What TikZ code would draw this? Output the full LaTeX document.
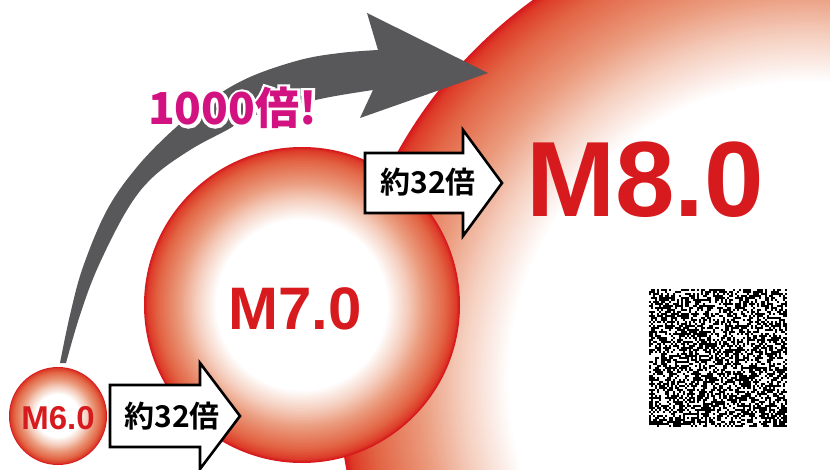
\documentclass[tikz,border=0pt]{standalone}
\usepackage{fontspec}
\setmainfont{Liberation Sans}
\newfontfamily\jpb{Noto Sans CJK JP Bold}
\newfontfamily\jpk{Noto Sans CJK JP Black}
\newfontfamily\jpkhalo{Noto Sans CJK JP Black}[FakeBold=14]
\definecolor{redz}{RGB}{215,26,29}
\definecolor{g1}{RGB}{221,58,40}
\definecolor{g2}{RGB}{226,100,68}
\definecolor{g3}{RGB}{235,155,125}
\definecolor{g4}{RGB}{245,206,190}
\definecolor{arrowgray}{RGB}{88,87,89}
\definecolor{magz}{RGB}{210,18,128}
% colour of the radial gradient at fraction #1 (0 = rim, 1 = white core)
\newcommand\gradcolor[1]{%
  \ifdim #1pt<0.04pt \pgfmathsetmacro\gF{#1/0.04*100}\colorlet{ringc}{g1!\gF!redz}%
  \else\ifdim #1pt<0.18pt \pgfmathsetmacro\gF{(#1-0.04)/0.14*100}\colorlet{ringc}{g2!\gF!g1}%
  \else\ifdim #1pt<0.48pt \pgfmathsetmacro\gF{(#1-0.18)/0.30*100}\colorlet{ringc}{g3!\gF!g2}%
  \else\ifdim #1pt<0.72pt \pgfmathsetmacro\gF{(#1-0.48)/0.24*100}\colorlet{ringc}{g4!\gF!g3}%
  \else \pgfmathsetmacro\gF{min(100,(#1-0.72)/0.28*100)}\colorlet{ringc}{white!\gF!g4}%
  \fi\fi\fi\fi}
% #1 centre, #2 outer radius, #3 radius of white core, #4 number of rings
\newcommand\gradcircle[4]{%
  \foreach \k in {0,...,#4} {%
    \pgfmathsetmacro\gT{\k/#4}%
    \pgfmathsetmacro\gR{#2-(#2-#3)*\gT}%
    \gradcolor{\gT}%
    \fill[ringc] (#1) circle (\gR pt);%
  }}
\begin{document}
\begin{tikzpicture}[x=1pt,y=-1pt,
  mtext/.style={text=redz, font=\bfseries, inner sep=0pt},
  boxarrow/.style={draw=black, fill=white, line width=2.6pt, line join=miter},
  jptext/.style={font=\jpb\fontsize{30}{30}\selectfont, inner sep=0pt, text=black},
  bigtext/.style={inner sep=0pt, anchor=base west}]
\useasboundingbox (0,0) rectangle (830,470);
\clip (0,0) rectangle (830,470);
\fill[white] (0,0) rectangle (830,470);
% big circle M8.0
\gradcircle{808,381}{470}{300}{85}
% gray arrow
\fill[arrowgray] plot[smooth, tension=0.6] coordinates {(60,363) (70,315) (83,267) (107,210) (137,167) (173,130) (210,100) (250,77) (300,60) (340,53) (378,50)}
  -- (367,13) -- (488,73) -- (360,118) --
  plot[smooth, tension=0.6] coordinates {(373,90) (330,97) (290,106) (250,117) (227,130) (190,150) (153,177) (127,210) (98,267) (80,315) (66,363)} -- cycle;
% 1000x label with white halo
\coordinate (lbl) at (148,125);
\node[bigtext, text=white, font=\jpkhalo\fontsize{44}{44}\selectfont] (halo) at (lbl) {1000倍!};
\node[bigtext, text=magz, font=\jpk\fontsize{44}{44}\selectfont] (times1000) at (lbl) {1000倍!};
% medium circle M7.0
\gradcircle{302,305}{158}{86}{47}
% small circle M6.0
\gradcircle{58,416}{49}{22}{30}
% box arrows
\draw[boxarrow] (110,385) -- (200,385) -- (200,363) -- (240,416) -- (200,469) -- (200,447) -- (110,447) -- cycle;
\draw[boxarrow] (365,153) -- (463,153) -- (463,130) -- (502,183) -- (463,236) -- (463,213) -- (365,213) -- cycle;
\node[jptext, anchor=base] (r1) at (172,427) {約32倍};
\node[jptext, anchor=base] (r2) at (428,194) {約32倍};
% magnitude labels
\node[mtext, font=\bfseries\fontsize{33}{33}\selectfont] (m6) at (58,418) {M6.0};
\node[mtext, font=\bfseries\fontsize{60}{60}\selectfont] (m7) at (295,309) {M7.0};
\node[mtext, font=\bfseries\fontsize{107}{107}\selectfont] (m8) at (645,180) {M8.0};
% noise code square
\pgfmathsetseed{4242}
\foreach \i in {0,...,68} {
  \foreach \j in {0,...,68} {
    \pgfmathrandominteger{\r}{0}{99}
    \ifnum\r<52 \fill[black] (649+2*\i,289+2*\j) rectangle ++(2,2);\fi
  }
}
\end{tikzpicture}
\end{document}
